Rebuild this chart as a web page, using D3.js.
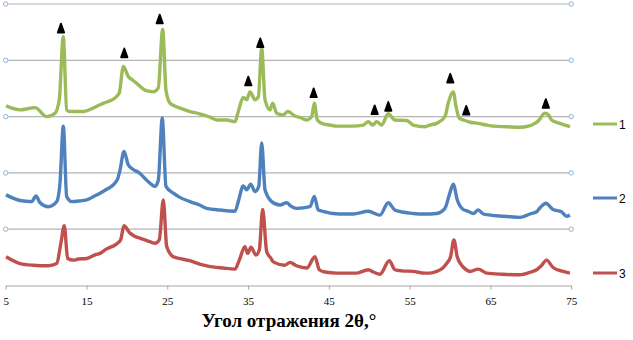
<!DOCTYPE html>
<html>
<head>
<meta charset="utf-8">
<script src="https://cdn.jsdelivr.net/npm/d3@7"></script>
<style>
  body { margin: 0; background: #fff; }
  svg { display: block; }
</style>
</head>
<body>
<div id="chart"></div>
<script>
// XRD patterns, offset vertically
let series1 = [
  [5.04, 319], [6.77, 312], [8.63, 316], [10.07, 300], [11.10, 306], [11.63, 330], [12.13, 442],
  [12.55, 312], [12.96, 309], [13.5, 309], [14.6, 309], [15.5, 313], [16.67, 321], [17.5, 326],
  [18.53, 333], [18.8, 337], [19.06, 342], [19.56, 389], [20.18, 371], [20.7, 365], [21.21, 359],
  [22.24, 347], [22.8, 345], [23.27, 344], [23.89, 351], [24.43, 455], [24.84, 347], [25.34, 324],
  [25.9, 319], [26.57, 315], [27.81, 309], [29.0, 305], [29.46, 303], [30.3, 299], [31.12, 294],
  [32.35, 294], [33.38, 291], [33.79, 309], [34.40, 334], [34.83, 330], [35.24, 344], [35.86, 330],
  [36.27, 335], [36.69, 421], [37.10, 330], [37.71, 312], [38.05, 324], [38.54, 306], [39.32, 303],
  [39.94, 309], [40.81, 301], [41.5, 298], [42.26, 294], [42.88, 300], [43.20, 324], [43.57, 294],
  [44.3, 287], [45.14, 285], [46.0, 283], [47.21, 283], [48.0, 283], [49.26, 285], [49.88, 291],
  [50.42, 285], [50.92, 291], [51.54, 285], [52.35, 305], [53.18, 294], [54.63, 293], [55.45, 285],
  [56.89, 282], [57.5, 285], [58.34, 288], [59.37, 300], [59.78, 324], [60.40, 344], [60.74, 318],
  [61.15, 297], [61.64, 294], [62.5, 290], [63.50, 288], [64.5, 285], [65.35, 283], [67.0, 282],
  [68.65, 281], [69.7, 283], [70.51, 288], [70.9, 292], [71.75, 306], [72.2, 303], [72.58, 294],
  [73.61, 288], [74.85, 282]
];

let series2 = [
  [5.04, 161], [6.77, 151], [8.22, 149], [8.75, 159], [9.25, 147], [10.27, 140], [11.31, 149],
  [11.72, 182], [12.13, 283], [12.55, 158], [13.17, 149], [14.0, 150], [15.03, 152], [16.0, 159],
  [16.67, 164], [17.5, 171], [18.53, 182], [18.9, 191], [19.15, 205], [19.64, 238], [20.18, 214],
  [20.7, 207], [21.62, 199], [22.24, 190], [23.0, 180], [23.48, 176], [23.89, 187], [24.38, 297],
  [24.84, 176], [25.75, 164], [26.5, 157], [27.81, 149], [29.0, 143], [29.88, 137], [31.53, 134],
  [33.38, 132], [33.79, 149], [34.40, 177], [34.83, 170], [35.33, 180], [35.86, 167], [36.32, 176],
  [36.69, 253], [37.10, 170], [37.93, 149], [38.95, 143], [39.78, 147], [40.3, 141], [41.02, 137],
  [42.67, 140], [43.20, 158], [43.70, 134], [44.5, 131], [45.55, 128], [47.0, 127], [48.03, 127],
  [49.88, 132], [51.33, 125], [52.35, 147], [53.18, 134], [55.45, 128], [56.8, 127], [58.34, 128],
  [59.37, 137], [59.91, 161], [60.40, 180], [60.90, 152], [61.64, 135], [62.2, 132], [62.88, 128],
  [63.50, 134], [64.12, 127], [65.0, 125], [66.59, 123], [67.5, 122], [68.65, 121], [69.9, 127],
  [70.72, 131], [71.2, 139], [71.87, 146], [72.76, 135], [73.80, 131], [74.42, 123], [74.84, 125]
];

let series3 = [
  [5.04, 51], [6.77, 39], [8.42, 36], [10.27, 35], [11.31, 39], [11.84, 76], [12.25, 106],
  [12.67, 48], [13.37, 45], [14.0, 47], [15.03, 48], [16.0, 54], [16.67, 57], [17.5, 65],
  [18.53, 72], [19.0, 77], [19.23, 81], [19.64, 106], [20.39, 93], [20.9, 88], [21.62, 84],
  [22.24, 81], [23.0, 77], [23.48, 75], [24.01, 81], [24.51, 152], [24.93, 69], [25.75, 51],
  [26.5, 48], [27.81, 44], [29.0, 38], [29.88, 35], [31.93, 31], [33.38, 29], [33.91, 45],
  [34.61, 69], [34.95, 57], [35.36, 68], [35.98, 54], [36.39, 63], [36.81, 135], [37.31, 60],
  [37.8, 49], [38.12, 42], [39.57, 36], [40.19, 41], [41.0, 35], [42.26, 31], [43.28, 51],
  [43.82, 28], [44.5, 24], [45.97, 22], [47.0, 22], [48.45, 22], [49.88, 28], [50.5, 24],
  [51.33, 20], [52.48, 44], [53.18, 28], [54.0, 26], [55.45, 25], [56.89, 22], [57.5, 22],
  [58.34, 25], [59.1, 31], [59.58, 39], [60.07, 51], [60.48, 81], [60.89, 51], [61.44, 36],
  [62.0, 28], [62.47, 25], [63.50, 29], [64.54, 22], [66.5, 20], [68.65, 19], [70.0, 24],
  [70.72, 28], [71.3, 35], [71.95, 45], [72.76, 32], [74.0, 25], [74.84, 22]
];

let seriesNames = ["1", "2", "3"];
let seriesColors = ["#9BBB59", "#4F81BD", "#C0504D"];

// triangle markers over pattern 1: angle and level of the triangle base
let markerAngles = [11.84, 19.68, 24.06, 35.03, 36.51, 43.12, 50.67, 52.36, 60.03, 62.01, 71.86];
let markerLevels = [448, 404, 464, 354, 422, 333, 303, 309, 359, 302, 314];

let xTicks = [5, 15, 25, 35, 45, 55, 65, 75];
let gridValues = [100, 200, 300, 400, 500];
let xTitle = "Угол отражения 2θ,°";

// chart
let W = 633, H = 340;
let svg = d3.select("#chart").append("svg")
  .attr("width", W).attr("height", H);

let x = d3.scaleLinear().domain([5, 75]).range([5.7, 571.2]);
let y = d3.scaleLinear().domain([0, 500]).range([285.5, 4]);

// gridlines
svg.append("g").selectAll("line")
  .data(gridValues)
  .join("line")
  .attr("x1", x(5)).attr("x2", x(75))
  .attr("y1", d => y(d)).attr("y2", d => y(d))
  .attr("stroke", "#b4b4b4").attr("stroke-width", 1.2);

// x axis
let xAxis = svg.append("g")
  .attr("transform", "translate(0," + y(0) + ")")
  .call(d3.axisBottom(x).tickValues(xTicks).tickSize(4).tickSizeOuter(0).tickPadding(8));
xAxis.select(".domain").attr("stroke", "#a6a6a6").attr("stroke-width", 1.2);
xAxis.selectAll(".tick line").attr("stroke", "#a6a6a6");
xAxis.selectAll(".tick text")
  .attr("font-family", "Liberation Serif, serif")
  .attr("font-size", 11)
  .attr("fill", "#000");

// small circles at gridline ends
let ends = [];
gridValues.forEach(v => { ends.push([5, v]); ends.push([75, v]); });
svg.append("g").selectAll("circle")
  .data(ends)
  .join("circle")
  .attr("cx", d => x(d[0])).attr("cy", d => y(d[1]))
  .attr("r", 2.2)
  .attr("fill", "#fff").attr("stroke", "#8db3d9").attr("stroke-width", 1);

// the curves
let line = d3.line().x(d => x(d[0])).y(d => y(d[1])).curve(d3.curveMonotoneX);
[series3, series2, series1].forEach((s, i) => {
  svg.append("path")
    .datum(s)
    .attr("d", line)
    .attr("fill", "none")
    .attr("stroke", seriesColors[2 - i])
    .attr("stroke-width", 3.4)
    .attr("stroke-linejoin", "round");
});

// triangles
let tri = d3.range(markerAngles.length).map(i => [markerAngles[i], markerLevels[i]]);
svg.append("g").selectAll("path")
  .data(tri)
  .join("path")
  .attr("d", d => {
    let cx = x(d[0]), by = y(d[1]);
    return "M" + (cx - 3.2) + "," + (by - 0.8) + "L" + cx + "," + (by - 9.6) + "L" + (cx + 3.2) + "," + (by - 0.8) + "Z";
  })
  .attr("fill", "#000").attr("stroke", "#000")
  .attr("stroke-width", 1.8).attr("stroke-linejoin", "round");

// legend
let legendY = [124, 198, 273];
let legend = svg.append("g").selectAll("g")
  .data(seriesNames)
  .join("g")
  .attr("transform", (d, i) => "translate(593," + legendY[i] + ")");
legend.append("line")
  .attr("x1", 0).attr("x2", 24)
  .attr("stroke", (d, i) => seriesColors[i]).attr("stroke-width", 3);
legend.append("text")
  .attr("x", 26).attr("y", 4.5)
  .attr("font-family", "Liberation Sans, Arial, sans-serif")
  .attr("font-size", 12)
  .attr("fill", "#000")
  .text(d => d);

// axis title
svg.append("text")
  .attr("x", 289).attr("y", 327)
  .attr("text-anchor", "middle")
  .attr("font-family", "Liberation Serif, Times New Roman, serif")
  .attr("font-weight", "bold")
  .attr("font-size", 19)
  .text(xTitle);
</script>
</body>
</html>
